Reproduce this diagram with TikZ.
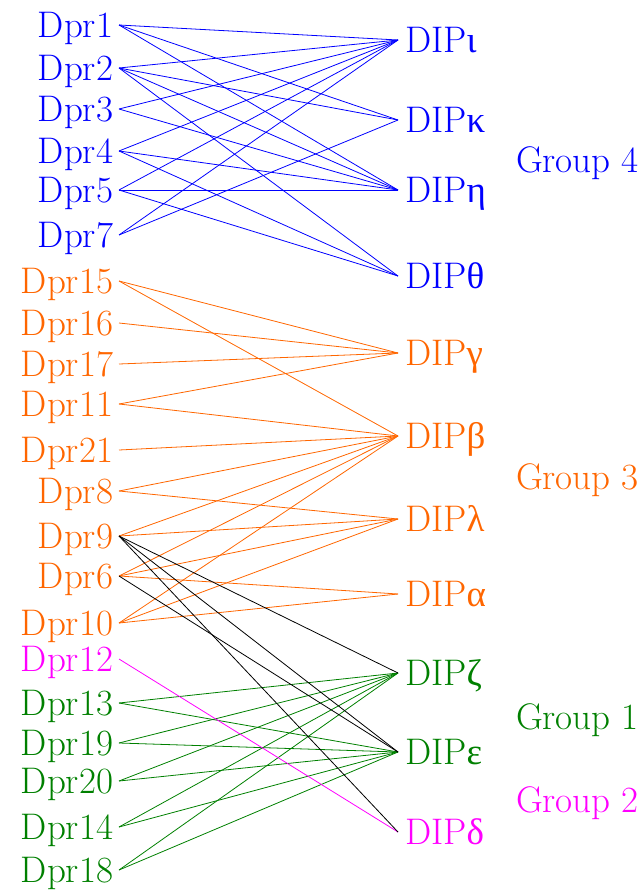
\documentclass[tikz,border=0pt]{standalone}
\usepackage{fontspec}
\newfontfamily\grk{Liberation Serif}
\definecolor{cblue}{RGB}{0,0,255}
\definecolor{corange}{RGB}{255,102,0}
\definecolor{cgreen}{RGB}{0,128,0}
\definecolor{cmag}{RGB}{255,0,255}
\begin{document}
\begin{tikzpicture}[x=1pt,y=-1pt,
  lbl/.style={font=\fontsize{37pt}{41pt}\selectfont, text height=25.3pt, text depth=0pt, inner ysep=0pt, inner xsep=6pt, outer sep=0pt},
  lft/.style={lbl, anchor=east},
  rgt/.style={lbl, anchor=west, inner xsep=7pt},
  grp/.style={lbl, anchor=west, inner xsep=0pt},
  edge/.style={line width=0.8pt}]
\useasboundingbox (0,0) rectangle (643,891);
% left nodes
\node[lft, text=cblue] (d1) at (119,25) {Dpr1};
\node[lft, text=cblue] (d2) at (119,68) {Dpr2};
\node[lft, text=cblue] (d3) at (119,109) {Dpr3};
\node[lft, text=cblue] (d4) at (119,151) {Dpr4};
\node[lft, text=cblue] (d5) at (119,190) {Dpr5};
\node[lft, text=cblue] (d7) at (119,235) {Dpr7};
\node[lft, text=corange] (d15) at (119,281) {Dpr15};
\node[lft, text=corange] (d16) at (119,323) {Dpr16};
\node[lft, text=corange] (d17) at (119,364) {Dpr17};
\node[lft, text=corange] (d11) at (119,404) {Dpr11};
\node[lft, text=corange] (d21) at (119,450) {Dpr21};
\node[lft, text=corange] (d8) at (119,491) {Dpr8};
\node[lft, text=corange] (d9) at (119,536) {Dpr9};
\node[lft, text=corange] (d6) at (119,576) {Dpr6};
\node[lft, text=corange] (d10) at (119,623) {Dpr10};
\node[lft, text=cmag] (d12) at (119,659) {Dpr12};
\node[lft, text=cgreen] (d13) at (119,703) {Dpr13};
\node[lft, text=cgreen] (d19) at (119,743) {Dpr19};
\node[lft, text=cgreen] (d20) at (119,781) {Dpr20};
\node[lft, text=cgreen] (d14) at (119,827) {Dpr14};
\node[lft, text=cgreen] (d18) at (119,870) {Dpr18};
% right nodes
\node[rgt, text=cblue] (iota) at (398,40) {DIP{\grk ι}};
\node[rgt, text=cblue] (kappa) at (398,120) {DIP{\grk κ}};
\node[rgt, text=cblue] (eta) at (398,190) {DIP{\grk η}};
\node[rgt, text=cblue] (theta) at (398,276) {DIP{\grk θ}};
\node[rgt, text=corange] (gamma) at (398,353) {DIP{\grk γ}};
\node[rgt, text=corange] (beta) at (398,436) {DIP{\grk β}};
\node[rgt, text=corange] (lambda) at (398,519) {DIP{\grk λ}};
\node[rgt, text=corange] (alpha) at (398,594) {DIP{\grk α}};
\node[rgt, text=cgreen] (zeta) at (398,673) {DIP{\grk ζ}};
\node[rgt, text=cgreen] (eps) at (398,752) {DIP{\grk ε}};
\node[rgt, text=cmag] (delta) at (398,832) {DIP{\grk δ}};
% groups
\node[grp, text=cblue] (g4) at (516,160) {Group 4};
\node[grp, text=corange] (g3) at (516,477) {Group 3};
\node[grp, text=cgreen] (g1) at (516,717) {Group 1};
\node[grp, text=cmag] (g2) at (516,800) {Group 2};
% blue edges
\foreach \a/\b in {d1/iota,d1/kappa,d1/eta,d2/iota,d2/kappa,d2/eta,d2/theta,d3/iota,d3/eta,d4/iota,d4/eta,d4/theta,d5/iota,d5/eta,d5/theta,d7/iota,d7/kappa}
  \draw[edge, cblue] (\a.east) -- (\b.west);
% orange edges
\foreach \a/\b in {d15/gamma,d15/beta,d16/gamma,d17/gamma,d11/gamma,d11/beta,d21/beta,d8/beta,d8/lambda,d9/beta,d9/lambda,d6/beta,d6/lambda,d6/alpha,d10/beta,d10/lambda,d10/alpha}
  \draw[edge, corange] (\a.east) -- (\b.west);
% green edges
\foreach \a in {d13,d19,d20,d14,d18}{
  \draw[edge, cgreen] (\a.east) -- (zeta.west);
  \draw[edge, cgreen] (\a.east) -- (eps.west);
}
% magenta edge
\draw[edge, cmag] (d12.east) -- (delta.west);
% black edges
\foreach \a/\b in {d9/zeta,d9/eps,d9/delta,d6/eps}
  \draw[edge, black] (\a.east) -- (\b.west);
\end{tikzpicture}
\end{document}
